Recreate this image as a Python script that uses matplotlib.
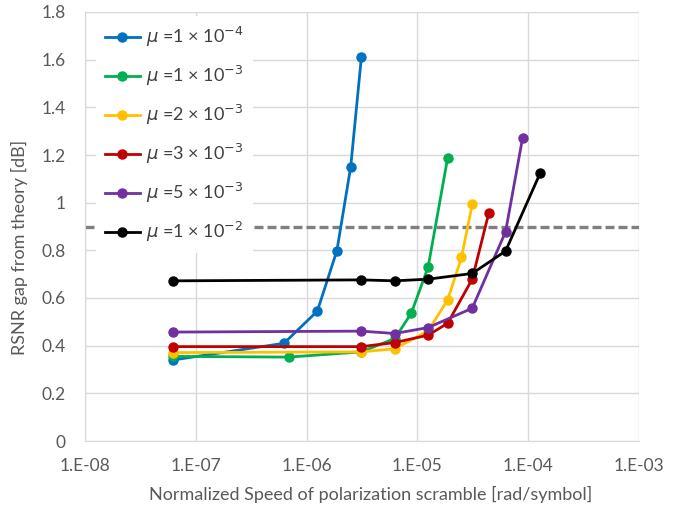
import matplotlib
matplotlib.use("Agg")
import matplotlib.pyplot as plt
import numpy as np

plt.rcParams["font.family"] = ["Lato", "DejaVu Sans"]
plt.rcParams["mathtext.fontset"] = "dejavusans"

# mu values and their curves (x in rad/symbol, y in dB)
MU_LABELS = [
    r"$\mu$ =1 × 10$^{-4}$",
    r"$\mu$ =1 × 10$^{-3}$",
    r"$\mu$ =2 × 10$^{-3}$",
    r"$\mu$ =3 × 10$^{-3}$",
    r"$\mu$ =5 × 10$^{-3}$",
    r"$\mu$ =1 × 10$^{-2}$",
]
COLORS = ["#0070C0", "#00B050", "#FFC000", "#C00000", "#7030A0", "#000000"]

x_mu1e4 = [6.25e-8, 6.25e-7, 1.25e-6, 1.875e-6, 2.5e-6, 3.125e-6]
y_mu1e4 = [0.34, 0.41, 0.545, 0.798, 1.15, 1.612]

x_mu1e3 = [6.25e-8, 6.9e-7, 3.125e-6, 6.25e-6, 8.8e-6, 1.25e-5, 1.875e-5]
y_mu1e3 = [0.355, 0.352, 0.374, 0.43, 0.536, 0.73, 1.188]

x_mu2e3 = [6.25e-8, 3.125e-6, 6.25e-6, 1.25e-5, 1.875e-5, 2.5e-5, 3.125e-5]
y_mu2e3 = [0.371, 0.374, 0.387, 0.462, 0.592, 0.77, 0.993]

x_mu3e3 = [6.25e-8, 3.125e-6, 6.25e-6, 1.25e-5, 1.875e-5, 3.125e-5, 4.4e-5]
y_mu3e3 = [0.396, 0.396, 0.413, 0.444, 0.494, 0.679, 0.955]

x_mu5e3 = [6.25e-8, 3.125e-6, 6.25e-6, 1.25e-5, 3.125e-5, 6.25e-5, 8.9e-5]
y_mu5e3 = [0.457, 0.461, 0.451, 0.476, 0.557, 0.878, 1.272]

x_mu1e2 = [6.25e-8, 3.125e-6, 6.25e-6, 1.25e-5, 3.125e-5, 6.25e-5, 1.28e-4]
y_mu1e2 = [0.672, 0.676, 0.672, 0.679, 0.703, 0.797, 1.123]

SERIES = [
    (x_mu1e4, y_mu1e4),
    (x_mu1e3, y_mu1e3),
    (x_mu2e3, y_mu2e3),
    (x_mu3e3, y_mu3e3),
    (x_mu5e3, y_mu5e3),
    (x_mu1e2, y_mu1e2),
]

THRESHOLD_DB = 0.9
X_TICKS = [1e-8, 1e-7, 1e-6, 1e-5, 1e-4, 1e-3]
X_TICK_LABELS = ["1.E-08", "1.E-07", "1.E-06", "1.E-05", "1.E-04", "1.E-03"]
Y_TICKS = [0, 0.2, 0.4, 0.6, 0.8, 1.0, 1.2, 1.4, 1.6, 1.8]
Y_TICK_LABELS = ["0", "0.2", "0.4", "0.6", "0.8", "1", "1.2", "1.4", "1.6", "1.8"]

fig = plt.figure(figsize=(6.91, 5.08), dpi=100)
ax = fig.add_axes([85 / 691, 1 - 441 / 508, (639 - 85) / 691, (441 - 12) / 508])

for (xs, ys), color, label in zip(SERIES, COLORS, MU_LABELS):
    ax.plot(xs, ys, color=color, lw=2.0, marker="o", ms=6.5, label=label, zorder=3)

ax.axhline(THRESHOLD_DB, color="#808080", lw=2.4, ls=(0, (2.7, 1.2)), zorder=2)

ax.set_xscale("log")
ax.set_xlim(1e-8, 1e-3)
ax.set_ylim(0, 1.8)
ax.set_xticks(X_TICKS)
ax.set_xticklabels(X_TICK_LABELS)
ax.set_yticks(Y_TICKS)
ax.set_yticklabels(Y_TICK_LABELS)
ax.minorticks_off()
ax.tick_params(length=0, labelsize=12.5, colors="#595959")
ax.tick_params(axis="x", pad=12.5)
ax.tick_params(axis="y", pad=14)
ax.grid(True, color="#D9D9D9", lw=1.0)
ax.set_axisbelow(True)
for side in ["top", "right"]:
    ax.spines[side].set_visible(False)
for side in ["left", "bottom"]:
    ax.spines[side].set_color("#D9D9D9")

ax.set_xlabel("Normalized Speed of polarization scramble [rad/symbol]",
              fontsize=13, color="#595959")
ax.set_ylabel("RSNR gap from theory [dB]", fontsize=13, color="#595959")
ax.xaxis.set_label_coords(0.516, -0.106)
ax.yaxis.set_label_coords(-0.103, 0.452)

leg = ax.legend(loc="upper left", bbox_to_anchor=(0.019, 0.99), fontsize=13,
                frameon=True, framealpha=1, edgecolor="none", fancybox=False,
                labelspacing=0.82, handlelength=1.95, handletextpad=0.35,
                borderpad=0.5, borderaxespad=0)
for t in leg.get_texts():
    t.set_color("#404040")

fig.savefig("out.png", dpi=100)
